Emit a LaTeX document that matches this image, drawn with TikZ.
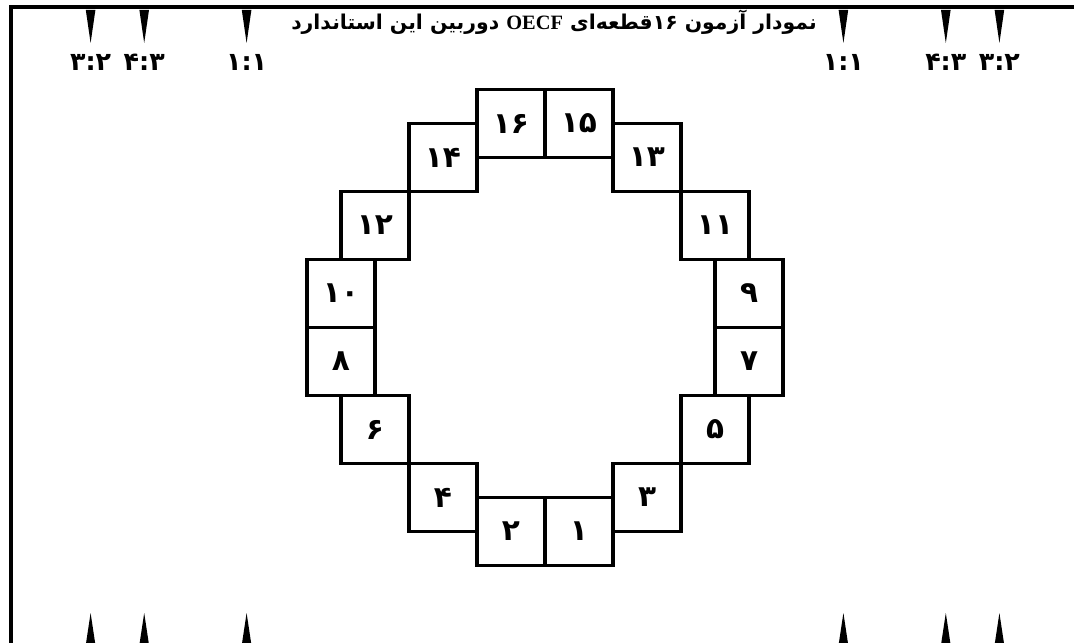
\documentclass[tikz,border=0pt]{standalone}
\usepackage{fontspec}
\usepackage{tikz}
\usetikzlibrary{positioning,calc}
\TeXXeTstate=1
\newfontfamily\farsifont[Script=Arabic]{DejaVu Sans}
\newfontfamily\latinfont{Liberation Serif}
\tikzset{
  patch/.style={draw, line width=2.3pt, minimum size=1.7cm, inner sep=0pt,
                font=\farsifont\bfseries\fontsize{21}{23}\selectfont},
  ratiolbl/.style={inner sep=1pt, font=\farsifont\bfseries\fontsize{18}{20}\selectfont},
  titlelbl/.style={anchor=base, inner sep=1pt,
                   font=\farsifont\bfseries\fontsize{14.5}{16}\selectfont},
  frameline/.style={line width=2.4pt},
  tickmark/.style={fill=black},
}

\begin{document}
\begin{tikzpicture}
\useasboundingbox (0,0) rectangle (26.85,-16.05);
\def\xMid{13.625}   % x-position of the ring centre
\def\yMid{-8.1875}  % y-position of the ring centre
\def\yTick{-0.25}   % top edge of the upper ticks
\def\yLbl{-1.55}    % y-position of the ratio labels

%% Frame
\coordinate (fTR) at (27.2,-0.175);
\coordinate (fTL) at (0.275,-0.175);
\coordinate (fBL) at (0.275,-16.3);
\draw[frameline] (fTR) -- (fTL) -- (fBL);

%% Title
\node[titlelbl] (title) at (13.85,-0.75)
  {\beginR نمودار آزمون ۱۶قطعه‌ای {\latinfont\bfseries\beginL OECF\endL} دوربین این استاندارد\endR};

%% Ratio ticks and labels
\foreach \dx/\txt [count=\i] in {-11.36/۳:۲, -10.02/۴:۳, -7.46/۱:۱,
                                 7.46/۱:۱, 10.02/۴:۳, 11.36/۳:۲} {
  \fill[tickmark] (\xMid+\dx-0.12,\yTick) -- (\xMid+\dx+0.12,\yTick)
                  -- (\xMid+\dx,-1.075) -- cycle;
  \node[ratiolbl] (r\i) at (\xMid+\dx,\yLbl) {\txt};
  \fill[tickmark] (\xMid+\dx-0.14,-16.25) -- (\xMid+\dx+0.14,-16.25)
                  -- (\xMid+\dx,-15.325) -- cycle;
}

%% Patches
\begin{scope}[xshift=\xMid cm, yshift=\yMid cm, x=1.7cm, y=1.7cm]
\node[patch] (p16) at (-0.5, 3) {۱۶};
\node[patch] (p15) at ( 0.5, 3) {۱۵};
\node[patch] (p14) at (-1.5, 2.5) {۱۴};
\node[patch] (p13) at ( 1.5, 2.5) {۱۳};
\node[patch] (p12) at (-2.5, 1.5) {۱۲};
\node[patch] (p11) at ( 2.5, 1.5) {۱۱};
\node[patch] (p10) at (-3, 0.5) {۱۰};
\node[patch] (p9)  at ( 3, 0.5) {۹};
\node[patch] (p8)  at (-3,-0.5) {۸};
\node[patch] (p7)  at ( 3,-0.5) {۷};
\node[patch] (p6)  at (-2.5,-1.5) {۶};
\node[patch] (p5)  at ( 2.5,-1.5) {۵};
\node[patch] (p4)  at (-1.5,-2.5) {۴};
\node[patch] (p3)  at ( 1.5,-2.5) {۳};
\node[patch] (p2)  at (-0.5,-3) {۲};
\node[patch] (p1)  at ( 0.5,-3) {۱};
\end{scope}
\end{tikzpicture}
\end{document}
